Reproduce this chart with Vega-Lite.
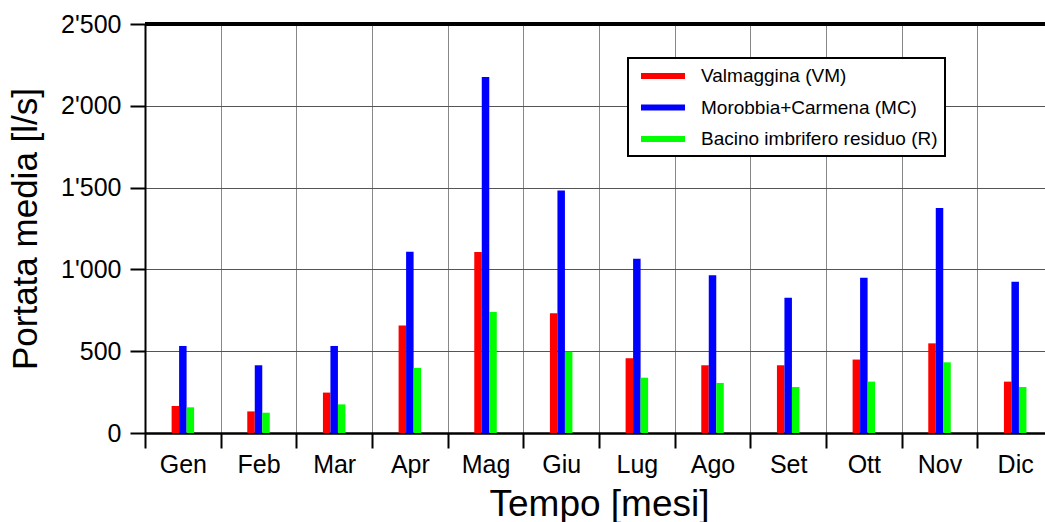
{
  "$schema": "https://vega.github.io/schema/vega-lite/v6.json",
  "width": 900,
  "height": 409,
  "autosize": {"type": "none"},
  "padding": {"left": 145, "top": 24, "right": 0, "bottom": 89},
  "background": "white",
  "config": {
    "view": {"stroke": null},
    "font": "Liberation Sans",
    "legend": {"strokeWidth": 2}
  },
  "data": {
    "values": [
      {"mese": "Gen", "serie": "Valmaggina (VM)", "portata": 165},
      {"mese": "Gen", "serie": "Morobbia+Carmena (MC)", "portata": 532},
      {"mese": "Gen", "serie": "Bacino imbrifero residuo (R)", "portata": 157},
      {"mese": "Feb", "serie": "Valmaggina (VM)", "portata": 132},
      {"mese": "Feb", "serie": "Morobbia+Carmena (MC)", "portata": 414},
      {"mese": "Feb", "serie": "Bacino imbrifero residuo (R)", "portata": 124},
      {"mese": "Mar", "serie": "Valmaggina (VM)", "portata": 247},
      {"mese": "Mar", "serie": "Morobbia+Carmena (MC)", "portata": 532},
      {"mese": "Mar", "serie": "Bacino imbrifero residuo (R)", "portata": 175},
      {"mese": "Apr", "serie": "Valmaggina (VM)", "portata": 657},
      {"mese": "Apr", "serie": "Morobbia+Carmena (MC)", "portata": 1108},
      {"mese": "Apr", "serie": "Bacino imbrifero residuo (R)", "portata": 398},
      {"mese": "Mag", "serie": "Valmaggina (VM)", "portata": 1106},
      {"mese": "Mag", "serie": "Morobbia+Carmena (MC)", "portata": 2176},
      {"mese": "Mag", "serie": "Bacino imbrifero residuo (R)", "portata": 740},
      {"mese": "Giu", "serie": "Valmaggina (VM)", "portata": 732},
      {"mese": "Giu", "serie": "Morobbia+Carmena (MC)", "portata": 1483},
      {"mese": "Giu", "serie": "Bacino imbrifero residuo (R)", "portata": 497},
      {"mese": "Lug", "serie": "Valmaggina (VM)", "portata": 457},
      {"mese": "Lug", "serie": "Morobbia+Carmena (MC)", "portata": 1065},
      {"mese": "Lug", "serie": "Bacino imbrifero residuo (R)", "portata": 338},
      {"mese": "Ago", "serie": "Valmaggina (VM)", "portata": 414},
      {"mese": "Ago", "serie": "Morobbia+Carmena (MC)", "portata": 965},
      {"mese": "Ago", "serie": "Bacino imbrifero residuo (R)", "portata": 306},
      {"mese": "Set", "serie": "Valmaggina (VM)", "portata": 414},
      {"mese": "Set", "serie": "Morobbia+Carmena (MC)", "portata": 826},
      {"mese": "Set", "serie": "Bacino imbrifero residuo (R)", "portata": 281},
      {"mese": "Ott", "serie": "Valmaggina (VM)", "portata": 449},
      {"mese": "Ott", "serie": "Morobbia+Carmena (MC)", "portata": 949},
      {"mese": "Ott", "serie": "Bacino imbrifero residuo (R)", "portata": 314},
      {"mese": "Nov", "serie": "Valmaggina (VM)", "portata": 548},
      {"mese": "Nov", "serie": "Morobbia+Carmena (MC)", "portata": 1375},
      {"mese": "Nov", "serie": "Bacino imbrifero residuo (R)", "portata": 432},
      {"mese": "Dic", "serie": "Valmaggina (VM)", "portata": 314},
      {"mese": "Dic", "serie": "Morobbia+Carmena (MC)", "portata": 924},
      {"mese": "Dic", "serie": "Bacino imbrifero residuo (R)", "portata": 281}
    ]
  },
  "layer": [
    {
      "mark": {"type": "bar"},
      "encoding": {
        "x": {
          "field": "mese",
          "type": "nominal",
          "sort": ["Gen", "Feb", "Mar", "Apr", "Mag", "Giu", "Lug", "Ago", "Set", "Ott", "Nov", "Dic"],
          "scale": {"range": [0, 908], "paddingInner": 0, "paddingOuter": 0},
          "axis": {
            "title": "Tempo [mesi]",
            "titleFontSize": 37,
            "titleFontWeight": "normal",
            "titleColor": "black",
            "titlePadding": 9,
            "labelFontSize": 25,
            "labelColor": "black",
            "labelAngle": 0,
            "labelPadding": 4,
            "tickSize": 15,
            "tickWidth": 2,
            "tickColor": "black",
            "tickBand": "extent",
            "domainColor": "black",
            "domainWidth": 2.5,
            "grid": true,
            "gridColor": "#888888",
            "gridWidth": 1
          }
        },
        "xOffset": {
          "field": "serie",
          "type": "nominal",
          "scale": {
            "domain": ["Valmaggina (VM)", "Morobbia+Carmena (MC)", "Bacino imbrifero residuo (R)"],
            "range": [26.6, 49.1],
            "paddingInner": 0,
            "paddingOuter": 0
          }
        },
        "y": {
          "field": "portata",
          "type": "quantitative",
          "scale": {"domain": [0, 2500], "nice": false},
          "axis": {
            "title": "Portata media [l/s]",
            "titleFontSize": 35,
            "titleFontWeight": "normal",
            "titleColor": "black",
            "titlePadding": 17,
            "values": [0, 500, 1000, 1500, 2000, 2500],
            "labelExpr": "replace(format(datum.value, ','), ',', \"'\")",
            "labelFontSize": 25,
            "labelColor": "black",
            "labelPadding": 9,
            "tickSize": 15,
            "tickWidth": 2,
            "tickColor": "black",
            "domainColor": "black",
            "domainWidth": 2,
            "grid": true,
            "gridColor": "#555555",
            "gridWidth": 1
          }
        },
        "color": {
          "field": "serie",
          "type": "nominal",
          "scale": {
            "domain": ["Valmaggina (VM)", "Morobbia+Carmena (MC)", "Bacino imbrifero residuo (R)"],
            "range": ["#ff0000", "#0000ff", "#00ff00"]
          },
          "legend": {
            "orient": "none",
            "legendX": 483,
            "legendY": 34,
            "title": null,
            "symbolType": "M-2,-0.28L2,-0.28L2,0.28L-2,0.28Z",
            "symbolSize": 484,
            "symbolStrokeWidth": 0,
            "symbolOpacity": 1,
            "symbolOffset": 17,
            "labelFontSize": 19,
            "labelLimit": 400,
            "labelColor": "black",
            "labelOffset": 27,
            "padding": 7,
            "rowPadding": 10.5,
            "fillColor": "white",
            "strokeColor": "black"
          }
        }
      }
    },
    {
      "mark": {"type": "rule", "color": "black", "strokeWidth": 2.5},
      "encoding": {"y": {"datum": 2500}}
    }
  ]
}
